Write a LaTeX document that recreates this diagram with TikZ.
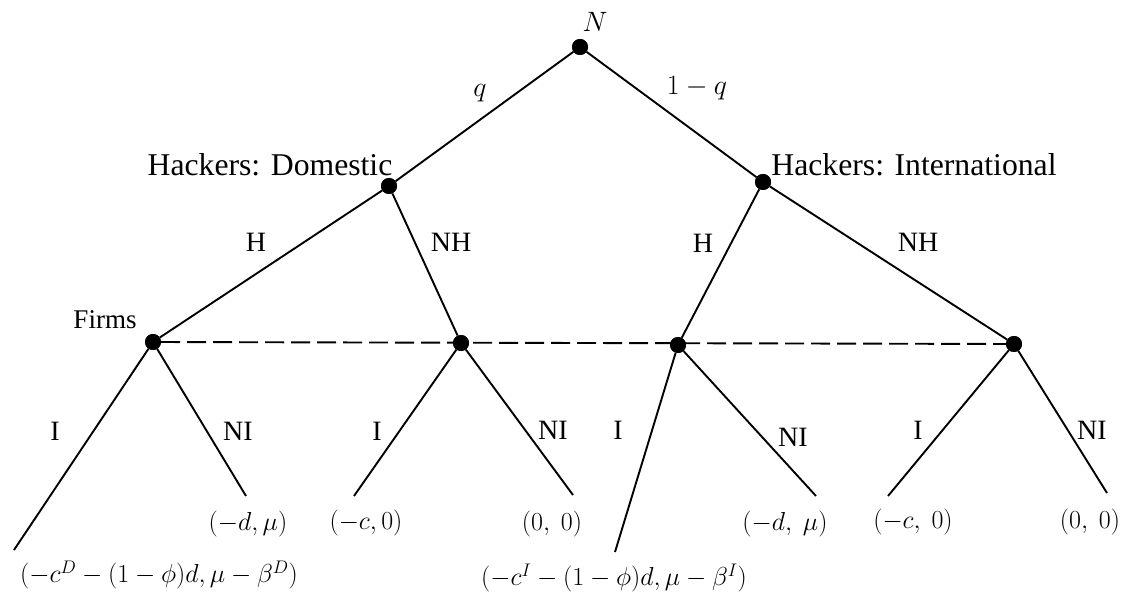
\RequirePackage{fix-cm}
\documentclass[tikz,border=0pt]{standalone}
\usepackage{fontspec}
\setmainfont{Liberation Serif}
\begin{document}
\begin{tikzpicture}[x=1pt,y=-1pt,
  dot/.style={circle,fill=black,inner sep=0pt,minimum size=16pt},
  edge/.style={line width=1.9pt},
  info/.style={line width=1.9pt,dash pattern=on 19pt off 7pt},
  lbl/.style={font=\fontsize{28}{32}\selectfont,inner sep=0pt},
  mlbl/.style={font=\fontsize{28}{32}\selectfont,inner sep=0pt},
  big/.style={font=\fontsize{31.7}{36}\selectfont,inner sep=0pt},
  pay/.style={font=\fontsize{26}{30}\selectfont,inner sep=0pt}]
\useasboundingbox (0,0) rectangle (1127,593);
% decision nodes
\node[dot] (N) at (580,47) {};
\node[dot] (D) at (389,186) {};
\node[dot] (I) at (763,182) {};
\node[dot] (F1) at (153,342) {};
\node[dot] (F2) at (461,343) {};
\node[dot] (F3) at (678,345) {};
\node[dot] (F4) at (1014,344) {};
% leaf ends
\coordinate (L1) at (14,550);
\coordinate (L2) at (246,496);
\coordinate (L3) at (354,496);
\coordinate (L4) at (573,495);
\coordinate (L5) at (615,552);
\coordinate (L6) at (816,496);
\coordinate (L7) at (888,496);
\coordinate (L8) at (1107,493);
% information set
\draw[info] (F1) -- (F4);
% edges
\draw[edge] (N) -- (D);
\draw[edge] (N) -- (I);
\draw[edge] (D) -- (F1);
\draw[edge] (D) -- (F2);
\draw[edge] (I) -- (F3);
\draw[edge] (I) -- (F4);
\draw[edge] (F1) -- (L1);
\draw[edge] (F1) -- (L2);
\draw[edge] (F2) -- (L3);
\draw[edge] (F2) -- (L4);
\draw[edge] (F3) -- (L5);
\draw[edge] (F3) -- (L6);
\draw[edge] (F4) -- (L7);
\draw[edge] (F4) -- (L8);
% redraw dots on top
\foreach \n in {N,D,I,F1,F2,F3,F4} \fill (\n) circle (8pt);
% player labels
\node[mlbl] (tN) at (595,22) {$N$};
\node[big] (tD) at (270,165) {Hackers: Domestic};
\node[big] (tI) at (914,165) {Hackers: International};
\node[lbl,font=\fontsize{27}{30}\selectfont] (tF) at (105,320) {Firms};
% move labels
\node[mlbl] (q) at (480,93) {$q$};
\node[mlbl] (q1) at (697,88) {$1-q$};
\node[lbl] (h1) at (256,242) {H};
\node[lbl] (nh1) at (451,242) {NH};
\node[lbl] (h2) at (703,243) {H};
\node[lbl] (nh2) at (918,242) {NH};
\node[lbl] (i1) at (55,431) {I};
\node[lbl] (ni1) at (238,431) {NI};
\node[lbl] (i2) at (377,431) {I};
\node[lbl] (ni2) at (553,430) {NI};
\node[lbl] (i3) at (618,430) {I};
\node[lbl] (ni3) at (793,437) {NI};
\node[lbl] (i4) at (918,430) {I};
\node[lbl] (ni4) at (1092,430) {NI};
% payoffs
\node[pay] (p1) at (159,575) {$(-c^D-(1-\phi)d,\mu-\beta^D)$};
\node[pay] (p2) at (248,524) {$(-d,\mu)$};
\node[pay] (p3) at (366,523) {$(-c,0)$};
\node[pay] (p4) at (552,524) {$(0,\ 0)$};
\node[pay] (p5) at (614,578) {$(-c^I-(1-\phi)d,\mu-\beta^I)$};
\node[pay] (p6) at (785,524) {$(-d,\ \mu)$};
\node[pay] (p7) at (913,522) {$(-c,\ 0)$};
\node[pay] (p8) at (1090,522) {$(0,\ 0)$};
\end{tikzpicture}
\end{document}
